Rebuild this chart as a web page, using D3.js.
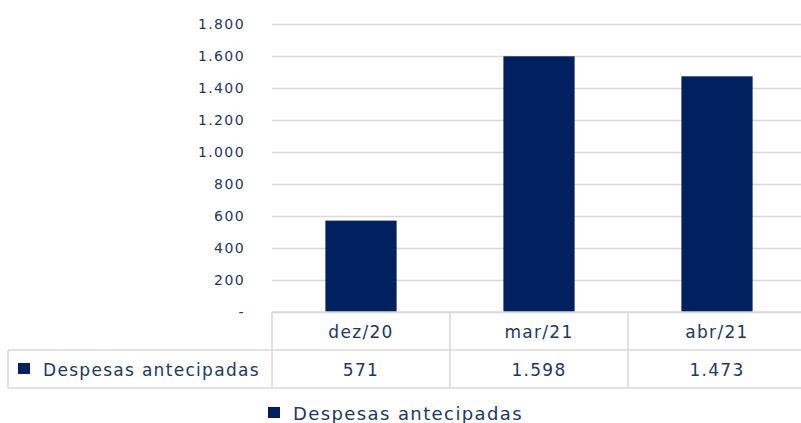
<!DOCTYPE html>
<html>
<head>
<meta charset="utf-8">
<script src="https://cdn.jsdelivr.net/npm/d3@7"></script>
<style>
  body { margin: 0; background: #fff; }
  text { font-family: "DejaVu Sans", sans-serif; fill: #203864; }
</style>
</head>
<body>
<svg id="chart" width="801" height="423"></svg>
<script>
// chart data
var categories = ['dez/20', 'mar/21', 'abr/21'];
var seriesName = 'Despesas antecipadas';
var values = [571, 1598, 1473];
var yTicks = [0, 200, 400, 600, 800, 1000, 1200, 1400, 1600, 1800];

var svg = d3.select('#chart');
var barColor = '#012060';
var lineColor = '#d9d9d9';

var ptBR = d3.formatLocale({ decimal: ',', thousands: '.', grouping: [3], currency: ['R$', ''] });
var fmt = ptBR.format(',.0f');

var plotLeft = 272, plotRight = 806, plotTop = 24, plotBase = 312;
var rowH = 38, tableLeft = 8;

var y = d3.scaleLinear().domain([0, 1800]).range([plotBase, plotTop]);
var col = d3.scaleBand().domain(categories).range([plotLeft, plotRight]);
var x = d3.scaleBand().domain(categories).range([plotLeft, plotRight])
    .paddingInner(0.6).paddingOuter(0.3);

// gridlines + tick labels
var yAxis = d3.axisLeft(y)
    .tickValues(yTicks)
    .tickSize(-(801 - plotLeft))
    .tickPadding(27)
    .tickFormat(function (d) { return d === 0 ? '-' : fmt(d); });

var gy = svg.append('g')
    .attr('transform', 'translate(' + plotLeft + ',0)')
    .call(yAxis);
gy.select('.domain').remove();
gy.selectAll('.tick line').attr('stroke', lineColor).attr('stroke-width', 1.5);
gy.selectAll('.tick text')
    .style('font-size', '14px')
    .style('letter-spacing', '1.4px')
    .attr('fill', '#203864');

// bars
svg.append('g').selectAll('rect')
    .data(values)
    .enter().append('rect')
    .attr('x', function (d, i) { return x(categories[i]); })
    .attr('y', function (d) { return y(d); })
    .attr('width', x.bandwidth())
    .attr('height', function (d) { return plotBase - y(d); })
    .attr('fill', barColor);

// data table
var table = svg.append('g')
    .attr('stroke', lineColor)
    .attr('stroke-width', 1.5)
    .attr('fill', 'none');

table.append('line').attr('x1', plotLeft).attr('x2', plotRight).attr('y1', plotBase).attr('y2', plotBase);
table.append('line').attr('x1', tableLeft).attr('x2', plotRight).attr('y1', plotBase + rowH).attr('y2', plotBase + rowH);
table.append('line').attr('x1', tableLeft).attr('x2', plotRight).attr('y1', plotBase + 2 * rowH).attr('y2', plotBase + 2 * rowH);
table.append('line').attr('x1', tableLeft).attr('x2', tableLeft).attr('y1', plotBase + rowH).attr('y2', plotBase + 2 * rowH);

table.selectAll('.vline')
    .data(categories)
    .enter().append('line')
    .attr('x1', function (c) { return col(c); })
    .attr('x2', function (c) { return col(c); })
    .attr('y1', plotBase)
    .attr('y2', plotBase + 2 * rowH);

svg.append('g').selectAll('text')
    .data(categories)
    .enter().append('text')
    .attr('x', function (c) { return col(c) + col.bandwidth() / 2; })
    .attr('y', plotBase + 26)
    .attr('text-anchor', 'middle')
    .style('font-size', '17px')
    .style('letter-spacing', '1.3px')
    .text(function (c) { return c; });

svg.append('g').selectAll('text')
    .data(values)
    .enter().append('text')
    .attr('x', function (d, i) { return col(categories[i]) + col.bandwidth() / 2; })
    .attr('y', plotBase + rowH + 26)
    .attr('text-anchor', 'middle')
    .style('font-size', '17px')
    .style('letter-spacing', '1.3px')
    .text(function (d) { return fmt(d); });

// series label in the table row
svg.append('rect')
    .attr('x', 18).attr('y', plotBase + rowH + 13)
    .attr('width', 12).attr('height', 11)
    .attr('fill', barColor);
svg.append('text')
    .attr('x', 43).attr('y', plotBase + rowH + 26)
    .style('font-size', '17px')
    .style('letter-spacing', '1.3px')
    .text(seriesName);

// legend
svg.append('rect')
    .attr('x', 268).attr('y', 407)
    .attr('width', 12).attr('height', 11)
    .attr('fill', barColor);
svg.append('text')
    .attr('x', 293).attr('y', 420)
    .style('font-size', '18px')
    .style('letter-spacing', '1.4px')
    .text(seriesName);
</script>
</body>
</html>
